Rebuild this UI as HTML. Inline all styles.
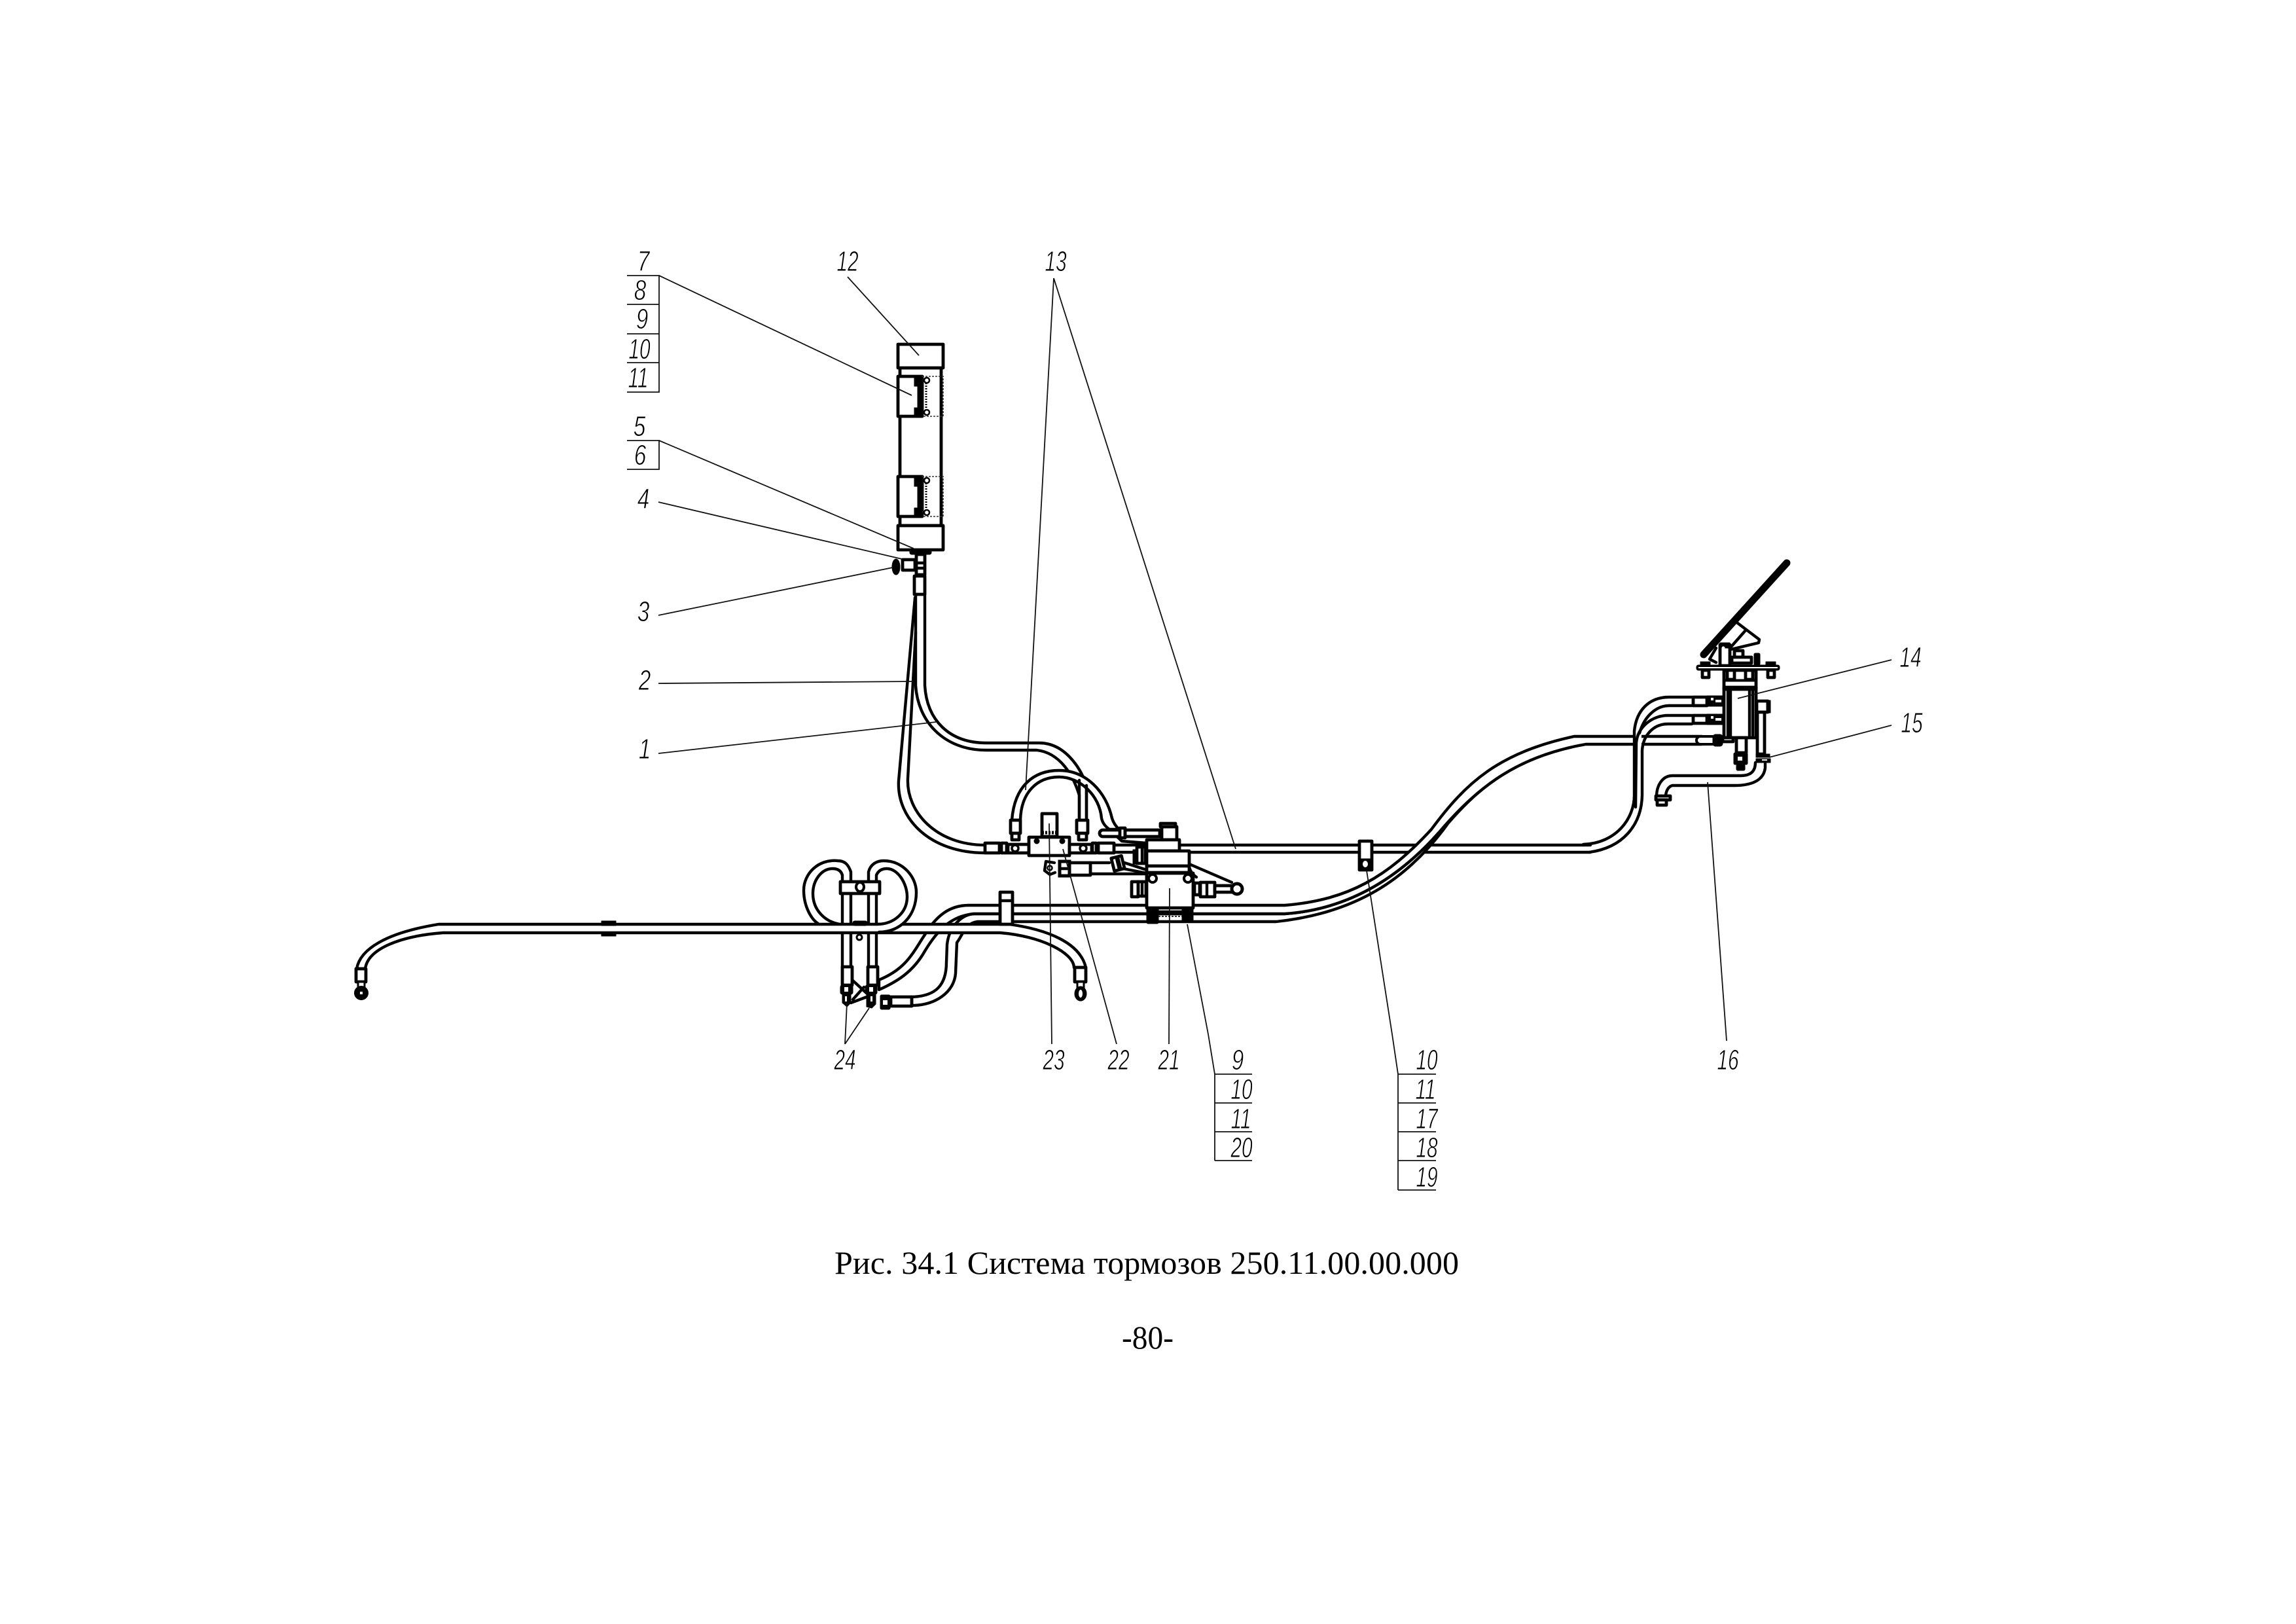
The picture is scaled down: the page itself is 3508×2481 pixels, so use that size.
<!DOCTYPE html>
<html lang="ru"><head><meta charset="utf-8"><title>Рис. 34.1</title>
<style>
html,body{margin:0;padding:0;background:#fff}
svg{display:block}
.l{fill:none;stroke:#000;stroke-width:4.4;stroke-linejoin:round;stroke-linecap:round}
.h{fill:#fff;stroke:#000;stroke-width:4.4;stroke-linejoin:round}
.b{fill:#000;stroke:#000;stroke-width:1;stroke-linejoin:round}
.w{fill:#fff;stroke:none}
.r{fill:#fff;stroke:#000;stroke-width:4.8;stroke-linejoin:round}
.t{fill:none;stroke:#111;stroke-width:1.8}
.n{font-family:"Liberation Sans",sans-serif;font-style:italic;font-size:44px;fill:#000;stroke:#fff;stroke-width:.9;text-anchor:middle}
.c{font-family:"Liberation Serif",serif;font-size:50px;fill:#000}
</style></head><body>
<svg xmlns="http://www.w3.org/2000/svg" width="3508" height="2481" viewBox="0 0 3508 2481">
<rect width="3508" height="2481" fill="#fff"/>

<!-- receiver -->
<rect class="r" x="1375" y="562" width="63" height="241"/>
<rect class="r" x="1372" y="526" width="69" height="36"/>
<rect class="r" x="1372" y="803" width="69" height="37"/>
<g id="cl1">
<rect class="r" x="1372" y="575" width="37" height="61"/>
<rect x="1409" y="575" width="32" height="61" fill="none" stroke="#333" stroke-width="1.6" stroke-dasharray="3 2"/>
<rect class="b" x="1397" y="576" width="12" height="14"/><rect class="b" x="1397" y="623" width="12" height="13"/><rect class="b" x="1402" y="590" width="7" height="33"/>
<circle cx="1416" cy="581" r="4" fill="#fff" stroke="#000" stroke-width="2.5"/><circle cx="1416" cy="630" r="4" fill="#fff" stroke="#000" stroke-width="2.5"/>
<line x1="1415" y1="585" x2="1415" y2="626" stroke="#000" stroke-width="3" stroke-dasharray="2 2"/>
</g>
<g transform="translate(0,153)">
<rect class="r" x="1372" y="575" width="37" height="61"/>
<rect x="1409" y="575" width="32" height="61" fill="none" stroke="#333" stroke-width="1.6" stroke-dasharray="3 2"/>
<rect class="b" x="1397" y="576" width="12" height="14"/><rect class="b" x="1397" y="623" width="12" height="13"/><rect class="b" x="1402" y="590" width="7" height="33"/>
<circle cx="1416" cy="581" r="4" fill="#fff" stroke="#000" stroke-width="2.5"/><circle cx="1416" cy="630" r="4" fill="#fff" stroke="#000" stroke-width="2.5"/>
<line x1="1415" y1="585" x2="1415" y2="626" stroke="#000" stroke-width="3" stroke-dasharray="2 2"/>
</g>
<rect class="b" x="1390" y="840" width="33" height="7" rx="3"/>
<rect class="r" x="1400" y="847" width="13" height="31"/>
<line class="l" x1="1400" y1="860" x2="1413" y2="860"/>
<line class="l" x1="1400" y1="868" x2="1413" y2="868"/>
<rect class="r" x="1379" y="855" width="19" height="16"/>
<ellipse class="b" cx="1369" cy="866" rx="6" ry="12"/>

<!-- hoses 1 and 2 -->
<path class="l" d="M1398 913L1373 1193C1370 1250 1420 1303 1505 1303"/>
<path class="l" d="M1399 967L1387 1190C1385 1240 1430 1291 1505 1291"/>
<path class="l" d="M1413 908V1047C1416 1100 1450 1135 1507 1135H1588C1625 1135 1650 1170 1660 1200V1253"/>
<path class="l" d="M1399 908V1047C1402 1100 1440 1146 1507 1146H1584C1620 1150 1640 1185 1649 1215V1253"/>
<rect class="r" x="1397" y="880" width="16" height="28"/>
<!-- arch hose -->
<path class="h" d="M1546 1253C1550 1200 1580 1177 1618 1177C1660 1177 1690 1210 1699 1250Q1702 1260 1710 1267L1695 1267Q1685 1260 1683 1250C1680 1215 1650 1187 1618 1187C1585 1187 1560 1210 1559 1253Z"/>
<line class="l" x1="1649" y1="1192" x2="1649" y2="1253"/>
<line class="l" x1="1660" y1="1200" x2="1660" y2="1253"/>
<polyline class="l" points="1695,1267 1714,1285 1752,1288"/>

<!-- loops, verticals behind main -->
<line class="l" x1="1287" y1="1345" x2="1287" y2="1477"/><line class="l" x1="1300" y1="1345" x2="1300" y2="1477"/>
<line class="l" x1="1327" y1="1345" x2="1327" y2="1477"/><line class="l" x1="1339" y1="1345" x2="1339" y2="1477"/>
<path class="l" d="M1300 1347V1332C1296 1320 1290 1315 1280 1315C1250 1312 1228 1335 1228 1360C1228 1385 1240 1405 1250 1411"/>
<path class="l" d="M1287 1347V1337C1285 1330 1280 1327 1272 1327C1255 1327 1242 1345 1242 1365C1242 1390 1260 1408 1283 1412"/>
<circle cx="1313" cy="1432" r="4" fill="#fff" stroke="#000" stroke-width="3"/>
<!-- rear collars -->
<rect class="r" x="1287" y="1477" width="15" height="28"/>
<rect class="r" x="1326" y="1477" width="15" height="28"/>

<!-- straight line hose right -->
<line class="l" x1="1702" y1="1291" x2="2430" y2="1291"/>
<line class="l" x1="1702" y1="1302" x2="2430" y2="1302"/>
<!-- clamp on line -->
<rect class="r" x="2077" y="1285" width="19" height="44"/>
<rect class="b" x="2077" y="1312" width="19" height="18" rx="3"/>
<ellipse cx="2086" cy="1320" rx="4" ry="5" fill="#fff"/>

<!-- S-curve hoses -->
<path class="h" d="M1393 1523C1430 1522 1446 1505 1446 1470L1447 1443C1450 1415 1470 1396 1490 1396H1963C2050 1390 2130 1350 2200 1270C2260 1200 2320 1155 2396 1142C2300 1165 2250 1215 2213 1257C2150 1345 2070 1395 1950 1408H1493C1475 1410 1470 1430 1462 1440L1460 1487C1458 1515 1430 1536 1393 1536Z"/>
<path class="h" d="M1343 1497C1385 1480 1395 1455 1413 1428C1430 1400 1450 1383 1480 1383H1963C2060 1375 2120 1340 2187 1267C2240 1195 2290 1150 2405 1125H2600V1137H2423C2320 1155 2260 1200 2200 1270C2130 1350 2050 1390 1963 1396H1487C1450 1400 1430 1425 1413 1453C1395 1485 1370 1500 1343 1512Z"/>

<!-- main brake line -->
<path class="h" d="M545 1480C550 1450 590 1425 670 1412H1542C1600 1420 1650 1440 1659 1478L1641 1478C1640 1455 1590 1430 1528 1425H677C610 1430 562 1450 558 1480Z"/>
<rect class="b" x="919" y="1407" width="22" height="7"/><rect class="b" x="919" y="1424" width="22" height="6"/>
<rect class="b" x="1303" y="1407" width="22" height="7" rx="3"/>
<!-- right loop over main -->
<path class="w" d="M1340 1414C1365 1412 1386 1395 1386 1370L1400 1363C1400 1400 1375 1424 1343 1423Z"/>
<path class="l" d="M1327 1347V1332C1330 1320 1340 1315 1350 1315C1380 1315 1400 1340 1400 1363C1400 1400 1375 1424 1343 1424"/>
<path class="l" d="M1339 1347V1337C1342 1330 1348 1327 1355 1327C1372 1327 1386 1350 1386 1370C1386 1395 1365 1412 1340 1412"/>
<!-- loop clamp -->
<rect class="r" x="1284" y="1347" width="60" height="18"/>
<ellipse cx="1314" cy="1355" rx="6" ry="7" fill="#fff" stroke="#000" stroke-width="4"/>

<!-- lower-left fittings -->
<rect class="b" x="1284" y="1505" width="19" height="14" rx="3"/><rect class="w" x="1290" y="1508" width="6" height="7"/>
<path class="b" d="M1287 1519h13v13l-6 6-7-6z"/>
<rect class="w" x="1291" y="1522" width="3" height="8"/>
<rect class="b" x="1322" y="1505" width="18" height="14" rx="3"/><rect class="w" x="1328" y="1508" width="6" height="7"/>
<path class="b" d="M1324 1519h14v15l-6 6-8-2z"/>
<rect class="w" x="1330" y="1522" width="3" height="8"/>
<polyline class="l" points="1303,1498 1327,1520"/><polyline class="l" points="1320,1508 1303,1527"/><polyline class="l" points="1300,1532 1327,1522"/>
<rect class="r" x="1361" y="1523" width="32" height="14"/>
<rect class="b" x="1345" y="1520" width="15" height="22" rx="2"/><rect class="w" x="1349" y="1528" width="7" height="7"/>
<!-- clamp lower -->
<rect class="r" x="1528" y="1363" width="19" height="49"/>
<line class="l" x1="1528" y1="1376" x2="1547" y2="1376"/>

<!-- end fittings -->
<rect class="r" x="544" y="1480" width="15" height="20"/>
<rect x="547" y="1500" width="10" height="9" fill="#fff" stroke="#000" stroke-width="3"/>
<circle class="b" cx="552" cy="1517" r="10.5"/><rect class="w" x="550" y="1515" width="4" height="4"/>
<rect class="r" x="1642" y="1478" width="17" height="22"/>
<rect x="1646" y="1500" width="10" height="9" fill="#fff" stroke="#000" stroke-width="3"/>
<ellipse class="b" cx="1651" cy="1518" rx="9" ry="11"/><ellipse cx="1651" cy="1518" rx="3" ry="6" fill="#fff"/>

<!-- distribution block -->
<rect class="r" x="1505" y="1288" width="22" height="15"/>
<rect class="r" x="1530" y="1288" width="8" height="15"/>
<rect class="r" x="1540" y="1290" width="32" height="13"/>
<rect class="r" x="1544" y="1253" width="15" height="20"/>
<rect class="r" x="1546" y="1273" width="11" height="10"/>
<circle cx="1551" cy="1296" r="5" fill="#fff" stroke="#000" stroke-width="3.5"/>
<rect class="r" x="1592" y="1243" width="23" height="35"/>
<line x1="1592" y1="1272" x2="1615" y2="1272" stroke="#000" stroke-width="5" stroke-dasharray="3 2"/>
<rect class="r" x="1572" y="1279" width="62" height="28"/>
<circle class="b" cx="1584" cy="1285" r="4"/><circle class="b" cx="1623" cy="1285" r="4"/>
<rect class="r" x="1634" y="1290" width="34" height="13"/>
<circle cx="1655" cy="1296" r="5" fill="#fff" stroke="#000" stroke-width="3.5"/>
<rect class="r" x="1645" y="1253" width="17" height="20"/>
<rect class="r" x="1648" y="1273" width="12" height="10"/>
<rect class="r" x="1669" y="1288" width="6" height="15"/>
<rect class="r" x="1678" y="1288" width="24" height="15"/>

<!-- lower stub under block -->
<path class="l" d="M1611 1318L1598 1316 1596 1330 1604 1336 1612 1333"/>
<circle cx="1604" cy="1326" r="3.5" fill="#fff" stroke="#000" stroke-width="2.5"/>
<line class="l" x1="1666" y1="1318" x2="1695" y2="1318"/>
<line class="l" x1="1666" y1="1335" x2="1752" y2="1335"/>
<rect class="r" x="1634" y="1318" width="32" height="19"/>
<rect x="1619" y="1316" width="15" height="22" fill="#fff" stroke="#000" stroke-width="5"/>
<line class="l" x1="1619" y1="1327" x2="1634" y2="1327"/>
<g transform="rotate(-14 1708 1319)"><rect class="r" x="1700" y="1309" width="8" height="20"/><rect class="r" x="1710" y="1309" width="6" height="20"/></g>
<line class="l" x1="1718" y1="1318" x2="1752" y2="1329"/>
<line class="l" x1="1716" y1="1327" x2="1752" y2="1334"/>

<!-- upper rod -->
<rect class="r" x="1680" y="1268" width="34" height="10" rx="5"/>
<rect class="r" x="1711" y="1265" width="8" height="15"/>
<rect class="r" x="1719" y="1268" width="53" height="10"/>
<rect class="r" x="1775" y="1263" width="23" height="20"/>
<rect class="r" x="1773" y="1258" width="23" height="5"/>

<!-- main valve -->
<line class="l" x1="1817" y1="1320" x2="1882" y2="1348"/>
<path class="l" d="M1817 1325Q1820 1335 1828 1340"/>
<rect class="r" x="1752" y="1283" width="50" height="17"/>
<rect class="r" x="1752" y="1300" width="65" height="23"/>
<rect class="r" x="1752" y="1323" width="65" height="10"/>
<rect class="r" x="1752" y="1334" width="71" height="53"/>
<rect class="b" x="1731" y="1298" width="6" height="22"/>
<rect class="r" x="1737" y="1294" width="13" height="25"/>
<line class="l" x1="1745" y1="1294" x2="1745" y2="1319"/>
<rect class="b" x="1752" y="1387" width="18" height="24" rx="2"/>
<rect class="b" x="1806" y="1387" width="17" height="22" rx="2"/>
<line class="l" x1="1770" y1="1393" x2="1806" y2="1393"/>
<line x1="1770" y1="1400" x2="1806" y2="1400" stroke="#333" stroke-width="2" stroke-dasharray="3 2"/>
<circle cx="1761" cy="1342" r="6" fill="#fff" stroke="#000" stroke-width="4"/>
<circle cx="1815" cy="1342" r="6" fill="#fff" stroke="#000" stroke-width="4"/>
<rect class="r" x="1729" y="1347" width="10" height="23"/>
<rect class="r" x="1739" y="1347" width="12" height="22"/>
<line class="l" x1="1745" y1="1347" x2="1745" y2="1369"/>
<rect class="r" x="1825" y="1349" width="8" height="18"/>
<rect class="r" x="1834" y="1348" width="22" height="22"/>
<line class="l" x1="1844" y1="1348" x2="1844" y2="1370"/>
<rect class="r" x="1856" y="1353" width="28" height="10"/>
<circle cx="1890" cy="1358" r="8" fill="#fff" stroke="#000" stroke-width="5"/>

<!-- pedal-side hoses -->
<rect class="w" x="2499" y="1120" width="9" height="22"/>
<path class="l" d="M2419 1290C2470 1288 2497 1250 2497 1215V1117C2500 1085 2520 1065 2550 1065H2585"/>
<path class="l" d="M2585 1078H2550C2530 1078 2512 1095 2505 1120"/>
<path class="l" d="M2585 1093H2548C2525 1093 2502 1110 2500 1135L2499 1233"/>
<path class="l" d="M2428 1302C2480 1295 2508 1260 2509 1215V1147C2510 1125 2525 1106 2548 1106H2585"/>

<!-- master cylinder -->
<line x1="2603" y1="1000" x2="2730" y2="860" stroke="#000" stroke-width="11" stroke-linecap="round"/>
<polyline class="l" points="2655,952 2688,977 2687,982 2645,992"/>
<line class="l" x1="2667" y1="963" x2="2645" y2="988"/>
<polyline class="l" points="2622,990 2612,1007 2622,1012"/>
<rect class="r" x="2628" y="985" width="15" height="32"/>
<rect class="b" x="2628" y="982" width="15" height="8"/><circle class="w" cx="2633" cy="990" r="2.5"/>
<rect class="r" x="2650" y="994" width="13" height="10"/>
<rect class="r" x="2646" y="1004" width="30" height="9"/>
<rect class="b" x="2680" y="998" width="9" height="18" rx="2"/>
<rect class="b" x="2598" y="1011" width="15" height="6"/><rect class="b" x="2698" y="1011" width="15" height="6"/>
<rect class="b" x="2592" y="1016" width="127" height="8" rx="3"/>
<rect class="w" x="2595" y="1019" width="121" height="2"/>
<rect class="r" x="2601" y="1024" width="10" height="11"/><rect class="r" x="2701" y="1024" width="10" height="11"/>
<rect class="r" x="2634" y="1024" width="49" height="103"/>
<rect class="r" x="2639" y="1024" width="11" height="14"/><rect class="r" x="2667" y="1024" width="11" height="14"/>
<rect class="b" x="2634" y="1038" width="49" height="3"/>
<rect class="r" x="2634" y="1050" width="49" height="3"/>
<line class="l" x1="2640" y1="1052" x2="2640" y2="1124"/><line class="l" x1="2644" y1="1052" x2="2644" y2="1124"/>
<line class="l" x1="2673" y1="1052" x2="2673" y2="1124"/><line class="l" x1="2678" y1="1052" x2="2678" y2="1124"/>
<rect class="r" x="2587" y="1065" width="21" height="13"/>
<rect class="b" x="2608" y="1063" width="25" height="16"/><rect class="w" x="2614" y="1066" width="4" height="4"/><rect class="w" x="2621" y="1069" width="9" height="4"/>
<rect class="r" x="2587" y="1093" width="21" height="12"/>
<rect class="b" x="2608" y="1091" width="25" height="16"/><rect class="w" x="2614" y="1094" width="4" height="4"/><rect class="w" x="2621" y="1097" width="9" height="4"/>
<rect x="2592" y="1125" width="30" height="12" rx="6" fill="#fff" stroke="#000" stroke-width="4"/>
<rect class="b" x="2617" y="1122" width="15" height="18" rx="4"/>
<rect class="r" x="2632" y="1127" width="16" height="6"/>
<rect class="r" x="2653" y="1127" width="15" height="23"/>
<rect class="b" x="2649" y="1150" width="21" height="18" rx="2"/><rect class="w" x="2655" y="1156" width="7" height="6"/>
<rect class="b" x="2653" y="1168" width="13" height="9" rx="2"/>
<rect class="r" x="2684" y="1071" width="17" height="17"/>
<rect class="b" x="2699" y="1070" width="6" height="19"/>
<rect class="r" x="2685" y="1088" width="11" height="64"/>
<rect class="b" x="2683" y="1152" width="21" height="5"/>
<rect class="b" x="2683" y="1159" width="22" height="6"/><rect class="w" x="2692" y="1160" width="8" height="2"/>

<!-- hose 16 -->
<path class="l" d="M2682 1165C2682 1178 2675 1185 2660 1185H2555C2540 1185 2531 1200 2531 1217"/>
<path class="l" d="M2697 1165V1173C2695 1190 2680 1200 2650 1200H2555C2548 1202 2545 1210 2545 1217"/>
<rect class="r" x="2530" y="1216" width="22" height="6"/>
<rect class="r" x="2532" y="1222" width="14" height="8"/>

<!-- leader tables -->
<g class="t">
<path d="M958 421H1007V599H958M958 465H1007M958 510H1007M958 554H1007"/>
<path d="M958 673H1007V717H958"/>
<path d="M1007 421L1393 604"/>
<path d="M1295 423L1404 543"/>
<path d="M1007 673L1396 838"/>
<path d="M1006 767L1378 854"/>
<path d="M1006 940L1364 867"/>
<path d="M1006 1044L1395 1041"/>
<path d="M1006 1151L1430 1103"/>
<path d="M1610 425L1567 1207"/>
<path d="M1610 425L1888 1297"/>
<path d="M1291 1595L1294 1533"/>
<path d="M1291 1595L1328 1540"/>
<path d="M1603 1258L1607 1595"/>
<path d="M1624 1297L1706 1595"/>
<path d="M1787 1357L1786 1595"/>
<path d="M1814 1412L1846 1580L1856 1641V1773M1856 1641H1913M1856 1685H1913M1856 1729H1913M1856 1773H1913"/>
<path d="M2088 1330L2127 1580L2136 1641V1818M2136 1641H2194M2136 1685H2194M2136 1729H2194M2136 1773H2194M2136 1818H2194"/>
<path d="M2609 1195L2638 1590"/>
<path d="M2890 1008L2655 1067"/>
<path d="M2890 1108L2703 1157"/>
</g>

<!-- numbers -->
<g class="n">
<text transform="translate(983,414) scale(.76,1)">7</text>
<text transform="translate(978,458) scale(.76,1)">8</text>
<text transform="translate(981,502) scale(.76,1)">9</text>
<text transform="translate(977,548) scale(.68,1)">10</text>
<text transform="translate(975,592) scale(.68,1)">11</text>
<text transform="translate(1295,414) scale(.68,1)">12</text>
<text transform="translate(1613,414) scale(.68,1)">13</text>
<text transform="translate(977,666) scale(.76,1)">5</text>
<text transform="translate(978,710) scale(.76,1)">6</text>
<text transform="translate(983,777) scale(.76,1)">4</text>
<text transform="translate(983,949) scale(.76,1)">3</text>
<text transform="translate(985,1054) scale(.76,1)">2</text>
<text transform="translate(985,1159) scale(.76,1)">1</text>
<text transform="translate(2919,1019) scale(.68,1)">14</text>
<text transform="translate(2921,1119) scale(.68,1)">15</text>
<text transform="translate(2640,1634) scale(.68,1)">16</text>
<text transform="translate(1291,1634) scale(.68,1)">24</text>
<text transform="translate(1610,1634) scale(.68,1)">23</text>
<text transform="translate(1709,1634) scale(.68,1)">22</text>
<text transform="translate(1786,1634) scale(.68,1)">21</text>
<text transform="translate(1891,1634) scale(.76,1)">9</text>
<text transform="translate(1897,1679) scale(.68,1)">10</text>
<text transform="translate(1896,1724) scale(.68,1)">11</text>
<text transform="translate(1897,1768) scale(.68,1)">20</text>
<text transform="translate(2180,1634) scale(.68,1)">10</text>
<text transform="translate(2178,1679) scale(.68,1)">11</text>
<text transform="translate(2180,1724) scale(.68,1)">17</text>
<text transform="translate(2180,1768) scale(.68,1)">18</text>
<text transform="translate(2180,1813) scale(.68,1)">19</text>
</g>

<text class="c" x="1275" y="1946" textLength="954" lengthAdjust="spacing">Рис. 34.1 Система тормозов 250.11.00.00.000</text>
<text class="c" x="1714" y="2060" textLength="79" lengthAdjust="spacingAndGlyphs">-80-</text>
</svg>
</body></html>
